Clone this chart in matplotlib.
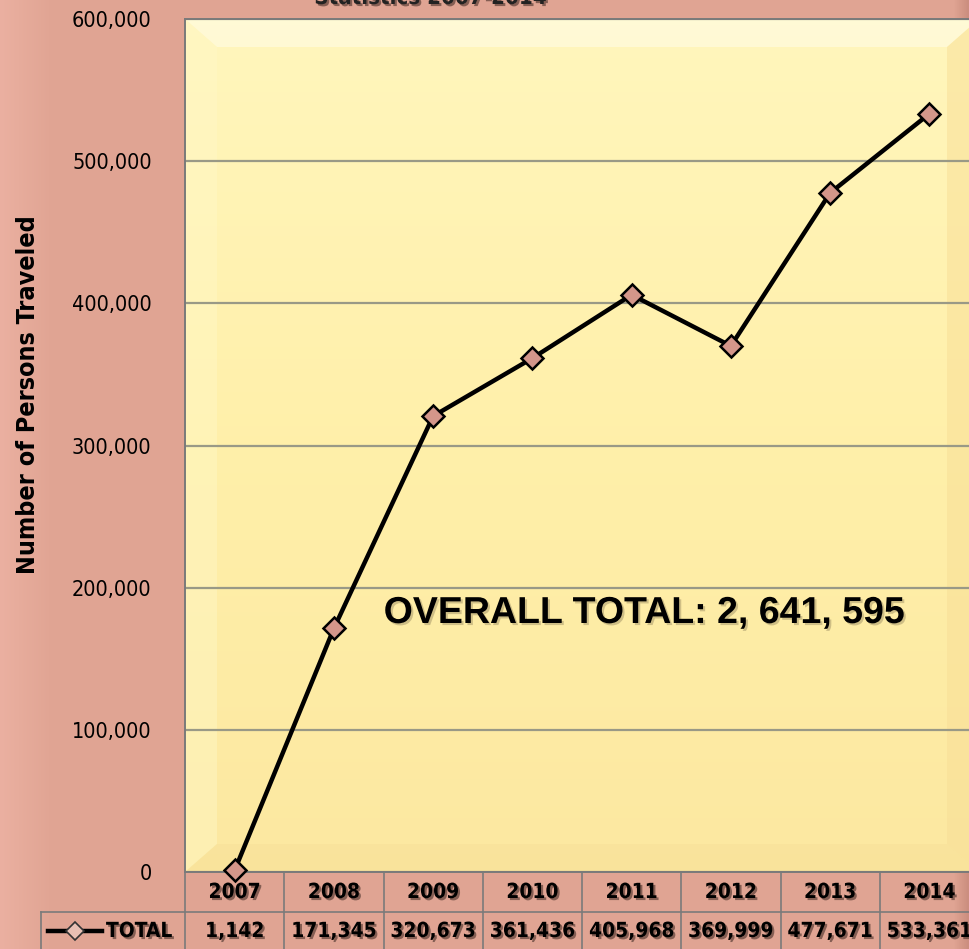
import numpy as np
import matplotlib.pyplot as plt
import matplotlib.patheffects as pe
from matplotlib import transforms
from matplotlib.lines import Line2D
from matplotlib.patches import Polygon

plt.rcParams['font.family'] = ['DejaVu Sans']
plt.rcParams['font.stretch'] = 'condensed'

years = ['2007', '2008', '2009', '2010', '2011', '2012', '2013', '2014']
totals = [1142, 171345, 320673, 361436, 405968, 369999, 477671, 533361]
yticks = [0, 100000, 200000, 300000, 400000, 500000, 600000]
series_name = 'TOTAL'
note = 'OVERALL TOTAL: 2, 641, 595'
title = 'Statistics 2007-2014'

W, H = 969, 949
fig = plt.figure(figsize=(W / 100, H / 100), dpi=100)
fig.patch.set_facecolor('#E1A594')


def fx(px):
    return px / W


def fy(py):
    return (H - py) / H


shadow = [pe.withSimplePatchShadow(offset=(1.5, -1.5), shadow_rgbFace='#3a2520', alpha=0.55)]

# background, lighter on the far left
bg = fig.add_axes([0, 0, 1, 1], zorder=-10)
bg.axis('off')
xs = np.linspace(0, 1, 400)
c_left = np.array([0.92, 0.69, 0.63])
c_mid = np.array([0.882, 0.647, 0.58])
c_right = np.array([0.80, 0.56, 0.50])
row = np.empty((1, 400, 3))
for i, x in enumerate(xs):
    if x < 0.05:
        t = x / 0.05
        row[0, i] = c_left * (1 - t) + c_mid * t
    elif x > 0.985:
        t = (x - 0.985) / 0.015
        row[0, i] = c_mid * (1 - t) + c_right * t
    else:
        row[0, i] = c_mid
bg.imshow(row, extent=[0, 1, 0, 1], aspect='auto', transform=bg.transAxes)
bg.set_xlim(0, 1)
bg.set_ylim(0, 1)

ax = fig.add_axes([fx(185), fy(872), fx(794), 853 / H])
ax.set_xlim(-0.5, 7.5)
ax.set_ylim(0, 600000)

# yellow plot area, slightly lighter at the top
ys = np.linspace(0, 1, 300)
top = np.array([1.0, 0.965, 0.74])
mid = np.array([1.0, 0.94, 0.665])
bot = np.array([0.99, 0.91, 0.63])
col = np.empty((300, 1, 3))
for i, y in enumerate(ys):
    if y > 0.5:
        t = (y - 0.5) / 0.5
        col[i, 0] = mid * (1 - t) + top * t
    else:
        t = y / 0.5
        col[i, 0] = bot * (1 - t) + mid * t
ax.imshow(col[::-1], extent=[0, 1, 0, 1], aspect='auto', transform=ax.transAxes, zorder=0)

# bevel on the plot area
bw = 32 / 794
bh = 28 / 853
bevels = [
    ([(0, 1), (1, 1), (1 - bw, 1 - bh), (bw, 1 - bh)], '#FFFCE0', 0.7),
    ([(0, 0), (0, 1), (bw, 1 - bh), (bw, bh)], '#FFF8C8', 0.45),
    ([(0, 0), (1, 0), (1 - bw, bh), (bw, bh)], '#F6DF96', 0.45),
    ([(1, 0), (1, 1), (1 - bw, 1 - bh), (1 - bw, bh)], '#F8DE96', 0.5),
]
for pts, c, a in bevels:
    ax.add_patch(Polygon(pts, closed=True, transform=ax.transAxes, facecolor=c,
                         edgecolor='none', alpha=a, zorder=0.5))

ax.set_yticks(yticks)
ax.set_yticklabels([f'{v:,}' for v in yticks], fontsize=15.5)
ax.set_xticks([])
ax.tick_params(axis='y', length=0, pad=24)
ax.yaxis.grid(True, color='#999986', linewidth=1.6)
ax.set_axisbelow(True)
ax.spines['right'].set_visible(False)
for s in ['top', 'left', 'bottom']:
    ax.spines[s].set_color('#7a7a7a')
    ax.spines[s].set_linewidth(1.4)

ax.plot(range(len(years)), totals, color='black', lw=3.2, marker='D', ms=11.5,
        mfc='#D4968A', mec='black', mew=1.8, clip_on=False, zorder=5)

fig.text(fx(644), fy(613), note, fontsize=27, fontweight='bold',
         family=['Liberation Sans', 'DejaVu Sans'], fontstretch='normal',
         ha='center', va='center',
         path_effects=[pe.withSimplePatchShadow(offset=(1.5, -1.5), shadow_rgbFace='#b0a070', alpha=0.6)])

fig.text(fx(28), fy(395), 'Number of Persons Traveled', rotation=90, fontsize=18,
         fontweight='bold', ha='center', va='center')

fig.text(fx(431), fy(4), title, fontsize=16, fontweight='bold', ha='center',
         va='baseline', color='#222222', path_effects=shadow)

# data table under the plot
tr = transforms.blended_transform_factory(ax.transData, fig.transFigure)
grid_c = '#7a7a7a'
for i in range(len(years) + 1):
    fig.add_artist(Line2D([i - 0.5, i - 0.5], [fy(872), 0], transform=tr,
                          color=grid_c, lw=1.2))
fig.add_artist(Line2D([fx(41), 1], [fy(912), fy(912)], color=grid_c, lw=1.2))
fig.add_artist(Line2D([fx(41), fx(41)], [fy(912), 0], color=grid_c, lw=1.2))
for i, (yr, v) in enumerate(zip(years, totals)):
    fig.text(i, fy(892), yr, transform=tr, fontsize=15, fontweight='bold',
             ha='center', va='center', path_effects=shadow)
    fig.text(i, fy(931), f'{v:,}', transform=tr, fontsize=15, fontweight='bold',
             ha='center', va='center', path_effects=shadow)

fig.add_artist(Line2D([fx(48), fx(102)], [fy(931), fy(931)], color='black', lw=3.2))
fig.add_artist(Line2D([fx(75)], [fy(931)], marker='D', ms=9, mfc='#E8C0B4',
                      mec='#333333', mew=1.2, lw=0))
fig.text(fx(106), fy(931), series_name, fontsize=15, fontweight='bold',
         ha='left', va='center', path_effects=shadow)

fig.savefig('out.png', dpi=100, facecolor=fig.get_facecolor())
